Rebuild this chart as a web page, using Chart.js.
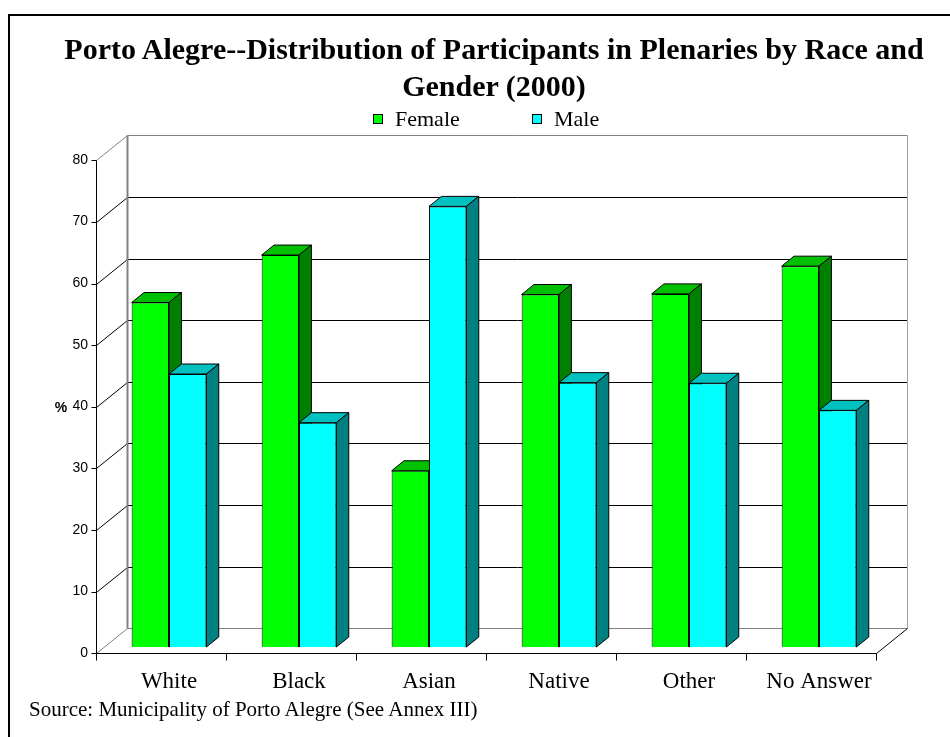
<!DOCTYPE html>
<html>
<head>
<meta charset="utf-8">
<script src="https://cdn.jsdelivr.net/npm/chart.js@4.4.1/dist/chart.umd.min.js"></script>
<style>
  body { margin: 0; background: #fff; overflow: hidden; }
  #wrap { position: relative; width: 950px; height: 737px; overflow: hidden; }
  canvas { position: absolute; left: 0; top: 0; }
  #frame { position: absolute; left: 8px; top: 14px; width: 1000px; height: 800px;
           border-left: 2px solid #000; border-top: 2px solid #000; pointer-events: none; }
  #title { position: absolute; left: 0; top: 30px; width: 988px; text-align: center; white-space: nowrap;
           font: bold 30px 'Liberation Serif'; line-height: 37px; color: #000; }
  #legend { position: absolute; left: 373px; top: 106px; margin: 0; padding: 0; list-style: none;
            display: flex; font: 22px 'Liberation Serif'; line-height: 26px; color: #000; }
  #legend li { width: 159px; display: flex; align-items: center; }
  #legend .box { width: 8px; height: 8px; border: 1px solid #000; margin-right: 12px; }
  #source { position: absolute; left: 29px; top: 697px; font: 21px 'Liberation Serif'; line-height: 25px; color: #000; }
</style>
</head>
<body>
<div id="wrap">
  <canvas id="chart" width="950" height="737"></canvas>
  <div id="frame"></div>
  <div id="title">Porto Alegre--Distribution of Participants in Plenaries by Race and<br>Gender (2000)</div>
  <ul id="legend"></ul>
  <div id="source">Source: Municipality of Porto Alegre (See Annex III)</div>
</div>
<script>
const categories = ['White', 'Black', 'Asian', 'Native', 'Other', 'No Answer'];
const female = [55.9, 63.6, 28.6, 57.2, 57.3, 61.8];
const male = [44.3, 36.4, 71.5, 42.9, 42.8, 38.4];
const seriesNames = ['Female', 'Male'];
const yMax = 80;
const yStep = 10;

// colours of each box: front face, lid, right side
const faceColors = [
    { front: '#00ff00', top: '#00c000', side: '#008000' },
    { front: '#00ffff', top: '#00c0c0', side: '#008080' }
];
// depth of the whole floor, and where the bars sit inside it
const DEPTH = { dx: 31, dy: -25 };
const BAR_FRONT = 0.25;
const BAR_DEPTH = 0.4;

const crisp = v => Math.round(v) + 0.5;

const box3d = {
    id: 'box3d',
    beforeDatasetsDraw(chart) {
        const { ctx, chartArea: area, scales: { x, y } } = chart;
        const ox = -BAR_FRONT * DEPTH.dx;
        const oy = -BAR_FRONT * DEPTH.dy;
        const left = area.left + ox;
        const right = area.right + ox;
        const fy = v => y.getPixelForValue(v) + oy;
        const bx = DEPTH.dx, by = DEPTH.dy;

        const line = (x1, y1, x2, y2, color, w) => {
            ctx.beginPath();
            ctx.strokeStyle = color;
            ctx.lineWidth = w || 1;
            ctx.moveTo(crisp(x1), crisp(y1));
            ctx.lineTo(crisp(x2), crisp(y2));
            ctx.stroke();
        };
        const poly = (pts, fill) => {
            ctx.beginPath();
            pts.forEach((p, i) => i ? ctx.lineTo(p[0], p[1]) : ctx.moveTo(p[0], p[1]));
            ctx.closePath();
            ctx.fillStyle = fill;
            ctx.fill();
            ctx.strokeStyle = '#000';
            ctx.lineWidth = 1;
            ctx.stroke();
        };

        ctx.save();

        // walls and gridlines
        y.ticks.forEach(t => {
            const yy = fy(t.value);
            const edge = t.value === 0 || t.value === yMax;
            if (!edge) line(left + bx, yy + by, right + bx, yy + by, '#000');
            line(left, yy, left + bx, yy + by, edge ? '#808080' : '#000');
            line(left - 5, yy, left, yy, '#000');
        });
        line(left + bx, fy(yMax) + by, right + bx, fy(yMax) + by, '#808080');
        line(left + bx, fy(0) + by, right + bx, fy(0) + by, '#808080');
        line(right + bx, fy(yMax) + by, right + bx, fy(0) + by, '#a0a0a0');
        line(left + bx, fy(yMax) + by, left + bx, fy(0) + by, '#808080', 2);
        line(right, fy(0), right + bx, fy(0) + by, '#000');

        // front axes
        line(left, fy(yMax), left, fy(0), '#000');
        line(left, fy(0), right, fy(0), '#000');
        for (let k = 0; k <= categories.length; k++) {
            const xx = x.getPixelForValue(k - 0.5) + ox;
            line(xx, fy(0), xx, fy(0) + 7, '#000');
        }

        ctx.fillStyle = '#000';
        ctx.font = 'bold 14px "Liberation Sans"';
        ctx.textAlign = 'right';
        ctx.textBaseline = 'middle';
        ctx.fillText('%', left - 29, fy(40) + 1);

        // lids and sides, category by category so the male box hides the female side
        const metas = chart.data.datasets.map((d, i) => chart.getDatasetMeta(i));
        const ddx = BAR_DEPTH * DEPTH.dx, ddy = BAR_DEPTH * DEPTH.dy;
        categories.forEach((c, j) => {
            metas.forEach((meta, i) => {
                const bar = meta.data[j];
                const x0 = bar.x - bar.width / 2, x1 = bar.x + bar.width / 2;
                const top = bar.y, base = bar.base;
                poly([[x0, top], [x1, top], [x1 + ddx, top + ddy], [x0 + ddx, top + ddy]], faceColors[i].top);
                poly([[x1, top], [x1 + ddx, top + ddy], [x1 + ddx, base + ddy], [x1, base]], faceColors[i].side);
            });
        });

        ctx.restore();
    }
};

const htmlLegend = {
    id: 'htmlLegend',
    afterUpdate(chart) {
        const ul = document.getElementById('legend');
        ul.innerHTML = '';
        chart.options.plugins.legend.labels.generateLabels(chart).forEach(item => {
            const li = document.createElement('li');
            const box = document.createElement('span');
            box.className = 'box';
            box.style.background = item.fillStyle;
            li.appendChild(box);
            li.appendChild(document.createTextNode(item.text));
            ul.appendChild(li);
        });
    }
};

new Chart(document.getElementById('chart'), {
    type: 'bar',
    data: {
        labels: categories,
        datasets: [
            { label: seriesNames[0], data: female, backgroundColor: faceColors[0].front, borderColor: '#000', borderWidth: 1 },
            { label: seriesNames[1], data: male, backgroundColor: faceColors[1].front, borderColor: '#000', borderWidth: 1 }
        ]
    },
    options: {
        responsive: false,
        animation: false,
        layout: { padding: { left: 0, right: 66, top: 154, bottom: 42 } },
        datasets: { bar: { categoryPercentage: 0.575, barPercentage: 1 } },
        plugins: {
            legend: { display: false },
            tooltip: { enabled: false }
        },
        scales: {
            x: {
                grid: { display: false, drawTicks: false },
                border: { display: false },
                ticks: { color: '#000', font: { family: 'Liberation Serif', size: 23 }, padding: 21, maxRotation: 0, autoSkip: false },
                afterFit: s => { s.height = 48; }
            },
            y: {
                min: 0,
                max: yMax,
                grid: { display: false, drawTicks: false },
                border: { display: false },
                ticks: { stepSize: yStep, color: '#000', font: { family: 'Liberation Sans', size: 14 }, padding: 16, labelOffset: 6 },
                afterFit: s => { s.width = 104; }
            }
        }
    },
    plugins: [box3d, htmlLegend]
});
</script>
</body>
</html>
